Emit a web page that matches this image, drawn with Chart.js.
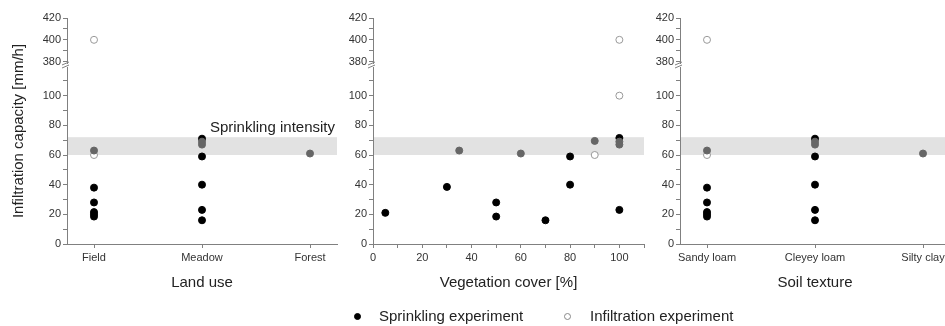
<!DOCTYPE html>
<html>
<head>
<meta charset="utf-8">
<script src="https://cdn.jsdelivr.net/npm/chart.js@4"></script>
<style>
  html, body { margin: 0; padding: 0; background: #fff; overflow: hidden; }
  #wrap { position: relative; width: 945px; height: 326px; overflow: hidden; font-family: 'Liberation Sans', Arial, sans-serif; }
  canvas { position: absolute; top: 0; }
  #legend { position: absolute; top: 306px; left: 0; width: 945px; height: 20px; font-size: 15px; color: #222; }
  .item { position: absolute; top: 0; line-height: 20px; white-space: nowrap; }
  .dot { position: absolute; top: 6.5px; width: 7px; height: 7px; border-radius: 50%; box-sizing: border-box; }
</style>
</head>
<body>
<div id="wrap">
  <canvas id="land" width="342" height="300" style="left:0"></canvas>
  <canvas id="cover" width="310" height="300" style="left:340px"></canvas>
  <canvas id="soil" width="320" height="300" style="left:650px"></canvas>
  <div id="legend"></div>
</div>
<script>
// axis ranges and tick labels
const lowerRange = [0, 120];
const upperRange = [376, 420];
const lowTicks = [0, 20, 40, 60, 80, 100];
const highTicks = [380, 400, 420];
const coverTicks = [0, 20, 40, 60, 80, 100];
const intensityBand = [60, 72];
const legendLabels = ['Sprinkling experiment', 'Infiltration experiment'];

// land use panel (x = category index)
const landCategories = ['Field', 'Meadow', 'Forest'];
const landSprinklingX = [0, 0, 0, 0, 0, 1, 1, 1, 1, 1];
const landSprinklingY = [38, 28, 21.5, 20, 18.5, 71, 59, 40, 23, 16];
const landGreyX = [0, 1, 1, 2];
const landGreyY = [63, 69, 67, 61];
const landInfiltrationX = [0, 0];
const landInfiltrationY = [60, 400];

// vegetation cover panel
const coverSprinklingX = [5, 30, 50, 50, 70, 80, 80, 100, 100];
const coverSprinklingY = [21, 38.5, 28, 18.5, 16, 59, 40, 23, 71.5];
const coverGreyX = [35, 60, 90, 100, 100];
const coverGreyY = [63, 61, 69.5, 69, 67];
const coverInfiltrationX = [90, 100, 100];
const coverInfiltrationY = [60, 100, 400];

// soil texture panel
const soilCategories = ['Sandy loam', 'Cleyey loam', 'Silty clay'];
const soilSprinklingX = [0, 0, 0, 0, 0, 1, 1, 1, 1, 1];
const soilSprinklingY = [38, 28, 21.5, 20, 18.5, 71, 59, 40, 23, 16];
const soilGreyX = [0, 1, 1, 2];
const soilGreyY = [63, 69, 67, 61];
const soilInfiltrationX = [0, 0];
const soilInfiltrationY = [60, 400];

const axisColor = '#808080';
const textColor = '#333';
Chart.defaults.font.family = "'Liberation Sans', Arial, sans-serif";

function points(xs, ys, high) {
  const out = [];
  xs.forEach(function (x, i) {
    if ((ys[i] >= upperRange[0]) === high) out.push({x: x, y: ys[i]});
  });
  return out;
}

function steps(from, to) {
  const t = [];
  for (let v = from; v <= to; v += 10) t.push({value: v});
  return t;
}

const bandPlugin = {
  id: 'band',
  beforeDatasetsDraw(chart, args, opts) {
    const {ctx, chartArea} = chart;
    const y = chart.scales.y;
    const top = y.getPixelForValue(intensityBand[1]);
    const bottom = y.getPixelForValue(intensityBand[0]);
    ctx.save();
    ctx.fillStyle = '#e2e2e2';
    ctx.fillRect(chartArea.left + 1, top, chartArea.right - chartArea.left - 1, bottom - top);
    if (opts.label) {
      ctx.fillStyle = '#222';
      ctx.font = "15px 'Liberation Sans', Arial, sans-serif";
      ctx.textAlign = 'right';
      ctx.textBaseline = 'alphabetic';
      ctx.fillText(opts.label, chartArea.right - 2, top - 5);
    }
    ctx.restore();
  },
  afterDraw(chart) {
    // axis break marks
    const {ctx, chartArea} = chart;
    const x = chartArea.left;
    const yb = chart.scales.yTop.bottom;
    ctx.save();
    ctx.fillStyle = '#fff';
    ctx.fillRect(x - 2, yb - 2, 4, 3);
    ctx.strokeStyle = axisColor;
    ctx.lineWidth = 1;
    ctx.beginPath();
    ctx.moveTo(x - 5, yb - 1); ctx.lineTo(x + 2, yb - 4);
    ctx.moveTo(x - 5, yb + 2); ctx.lineTo(x + 2, yb - 1);
    ctx.stroke();
    ctx.restore();
  }
};

function yAxis(range, ticks, labels, weight, stackWeight, width) {
  return {
    type: 'linear', position: 'left', min: range[0], max: range[1],
    stack: 'v', stackWeight: stackWeight, weight: weight,
    border: {color: axisColor},
    grid: {drawOnChartArea: false, color: axisColor, tickLength: 4},
    ticks: {
      autoSkip: false, padding: 2, color: textColor, font: {size: 11},
      callback: function (v) { return labels.includes(v) ? String(v) : ''; }
    },
    afterBuildTicks: function (s) { s.ticks = ticks; },
    afterFit: function (s) { s.width = width; }
  };
}

function makePanel(id, cfg) {
  const scales = {
    x: {
      type: 'linear', position: 'bottom', min: cfg.xMin, max: cfg.xMax,
      border: {color: axisColor},
      grid: {drawOnChartArea: false, color: axisColor, tickLength: 4},
      ticks: {
        autoSkip: false, maxRotation: 0, padding: 3, color: textColor, font: {size: 11},
        callback: cfg.xLabel
      },
      afterBuildTicks: function (s) { s.ticks = cfg.xTicks; },
      afterFit: function (s) { s.height = 56; },
      title: {display: true, text: cfg.xTitle, color: '#222', font: {size: 15}, padding: {top: 0, bottom: 8}}
    },
    yTop: yAxis(upperRange, steps(380, 420), highTicks, 2, 48, cfg.axisWidth),
    y: yAxis(lowerRange, steps(0, 110), lowTicks, 1, 178, cfg.axisWidth)
  };
  if (cfg.yTitle) {
    scales.yTitle = {
      type: 'linear', position: 'left', weight: 3,
      border: {display: false}, grid: {display: false}, ticks: {display: false},
      afterFit: function (s) { s.width = 30; },
      title: {display: true, text: cfg.yTitle, color: '#222', font: {size: 15}, padding: {top: 10, bottom: 0}}
    };
  }
  new Chart(document.getElementById(id), {
    type: 'scatter',
    data: {
      datasets: [
        {label: 'grey', data: points(cfg.grey[0], cfg.grey[1], false), yAxisID: 'y',
         backgroundColor: '#666', borderColor: '#666', pointRadius: 3.5},
        {label: legendLabels[0], data: points(cfg.sprinkling[0], cfg.sprinkling[1], false), yAxisID: 'y',
         backgroundColor: '#000', borderColor: '#000', pointRadius: 3.5},
        {label: legendLabels[1], data: points(cfg.infiltration[0], cfg.infiltration[1], false), yAxisID: 'y',
         backgroundColor: '#fff', borderColor: '#999', borderWidth: 1, pointRadius: 3.5},
        {label: legendLabels[1], data: points(cfg.infiltration[0], cfg.infiltration[1], true), yAxisID: 'yTop',
         backgroundColor: '#fff', borderColor: '#999', borderWidth: 1, pointRadius: 3.5}
      ]
    },
    options: {
      responsive: false,
      animation: false,
      layout: {padding: {top: 18, right: cfg.padRight, bottom: 0, left: 0}},
      plugins: {legend: {display: false}, tooltip: {enabled: false}, band: {label: cfg.bandLabel}},
      scales: scales
    },
    plugins: [bandPlugin]
  });
}

makePanel('land', {
  xMin: -0.25, xMax: 2.25, xTicks: landCategories.map(function (c, i) { return {value: i}; }),
  xLabel: function (v) { return landCategories[v]; }, xTitle: 'Land use',
  yTitle: 'Infiltration capacity [mm/h]', axisWidth: 37, padRight: 5,
  bandLabel: 'Sprinkling intensity',
  sprinkling: [landSprinklingX, landSprinklingY], grey: [landGreyX, landGreyY],
  infiltration: [landInfiltrationX, landInfiltrationY]
});

makePanel('cover', {
  xMin: 0, xMax: 110, xTicks: steps(0, 110),
  xLabel: function (v) { return coverTicks.includes(v) ? String(v) : ''; }, xTitle: 'Vegetation cover [%]',
  axisWidth: 33, padRight: 6,
  sprinkling: [coverSprinklingX, coverSprinklingY], grey: [coverGreyX, coverGreyY],
  infiltration: [coverInfiltrationX, coverInfiltrationY]
});

makePanel('soil', {
  xMin: -0.25, xMax: 2.25, xTicks: soilCategories.map(function (c, i) { return {value: i}; }),
  xLabel: function (v) { return soilCategories[v]; }, xTitle: 'Soil texture',
  axisWidth: 30, padRight: 20,
  sprinkling: [soilSprinklingX, soilSprinklingY], grey: [soilGreyX, soilGreyY],
  infiltration: [soilInfiltrationX, soilInfiltrationY]
});

// legend
const legend = document.getElementById('legend');
const legendPos = [[357, 379, '#000', '#000'], [567, 590, '#fff', '#888']];
legendLabels.forEach(function (label, i) {
  const p = legendPos[i];
  const dot = document.createElement('span');
  dot.className = 'dot';
  dot.style.left = (p[0] - 3.5) + 'px';
  dot.style.background = p[2];
  dot.style.border = '1px solid ' + p[3];
  legend.appendChild(dot);
  const item = document.createElement('span');
  item.className = 'item';
  item.style.left = p[1] + 'px';
  item.textContent = label;
  legend.appendChild(item);
});
</script>
</body>
</html>
